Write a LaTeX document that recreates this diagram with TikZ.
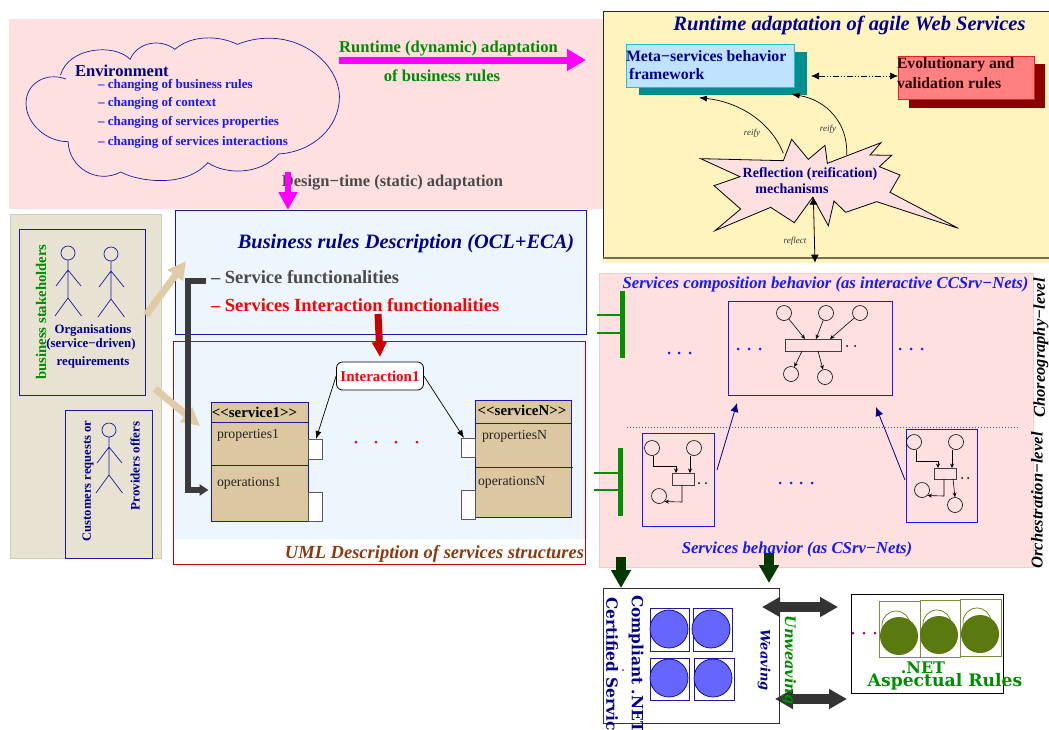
\documentclass[tikz,border=0pt]{standalone}
\usepackage{fontspec}
\setmainfont{Liberation Serif}
\newfontfamily\wideserif{DejaVu Serif}
\usetikzlibrary{arrows.meta,calc}
\definecolor{pinkbg}{HTML}{FFE0E0}
\definecolor{pinkedge}{HTML}{FFC8C8}
\definecolor{bluebg}{HTML}{EDF5FD}
\definecolor{beigebg}{HTML}{E8E2D2}
\definecolor{beigeedge}{HTML}{D4CBB0}
\definecolor{yellowbg}{HTML}{FFF4BD}
\definecolor{navyt}{HTML}{000090}
\definecolor{navyline}{HTML}{1A1AA6}
\definecolor{bluet}{HTML}{1818FF}
\definecolor{greent}{HTML}{008C00}
\definecolor{grayt}{HTML}{4A4A4A}
\definecolor{tan}{HTML}{DCC8A0}
\definecolor{fatbeige}{HTML}{DFCCA6}
\definecolor{dkgreen}{HTML}{003800}
\definecolor{olive}{HTML}{5A7A10}
\definecolor{oliveline}{HTML}{7A9040}
\definecolor{magentaf}{HTML}{FF00FF}
\definecolor{metafill}{HTML}{BFE3FF}
\definecolor{metaedge}{HTML}{20C0D0}
\definecolor{tealshadow}{HTML}{008F8F}
\definecolor{evofill}{HTML}{FF8080}
\definecolor{evoedge}{HTML}{E82020}
\definecolor{evoshadow}{HTML}{8B0000}
\definecolor{umlbrown}{HTML}{8B3A10}
\definecolor{barred}{HTML}{C80000}
\definecolor{bargreen}{HTML}{009000}
\definecolor{dotpurple}{HTML}{A000A0}
\definecolor{discblue}{HTML}{6666FF}
\newcommand{\fs}[1]{\fontsize{#1}{#1}\selectfont}
\newcommand{\bx}[6]{\pgfmathsetmacro\bxcx{(#3+#5)/2}\pgfmathsetmacro\bxcy{(#4+#6)/2}\pgfmathsetmacro\bxw{#5-#3}\pgfmathsetmacro\bxh{#6-#4}\node[rectangle,inner sep=0pt,outer sep=0pt,minimum width=\bxw pt,minimum height=\bxh pt,#2] (#1) at (\bxcx,\bxcy) {};}
\tikzset{
  rtxt/.style={inner sep=0pt,outer sep=0pt,font=\fs{12}\bfseries,align=left},
  txt/.style={rtxt,yshift=-1.5pt},
  lefttxt/.style={txt,anchor=west},
  place/.style={circle,draw=black,line width=.6pt,inner sep=0pt,minimum size=15pt,fill=none},
  trans/.style={draw=black!75,line width=.8pt,fill=none},
  flow/.style={line width=.6pt,-{Stealth[length=4.5pt,width=4pt]}},
  thin arrow/.style={line width=.7pt,-{Latex[length=8pt,width=6pt]}},
  dotb/.style={circle,fill=bluet,inner sep=0pt,minimum size=3pt},
  dotk/.style={circle,fill=black,inner sep=0pt,minimum size=2pt},
  dotr/.style={circle,fill=red,inner sep=0pt,minimum size=3pt},
  dotp/.style={circle,fill=dotpurple,inner sep=0pt,minimum size=3pt},
  bluecircle/.style={circle,draw=navyt,line width=.7pt,fill=discblue,inner sep=0pt,minimum size=38pt},
  squarenavy/.style={draw=navyline,line width=.8pt,fill=white},
  squareolive/.style={draw=oliveline,line width=.9pt,fill=white},
  olivedisc/.style={circle,fill=olive,inner sep=0pt,minimum size=38pt},
  olivering/.style={circle,draw=olive,line width=.7pt,inner sep=0pt,minimum size=28pt},
  stick/.pic={
    \draw[draw=navyline,line width=.7pt] (0,0) circle (7);
    \draw[draw=navyline,line width=.7pt] (0,7) -- (0,45) (-12,33) -- (0,17) -- (13,33) (-13,63) -- (0,45) -- (13.5,63);
  },
}
\begin{document}
\begin{tikzpicture}[x=1pt,y=-1pt]
\useasboundingbox (0,0) rectangle (1049,729);
% ---------- backgrounds
\bx{toppink}{fill=pinkbg}{9}{19}{603}{209}
\bx{bizbg}{fill=bluebg}{175}{210}{588}{539}
\bx{beige}{fill=beigebg,draw=beigeedge}{10}{214}{161}{558}
\bx{yellowpanel}{fill=yellowbg}{603}{11}{1049}{263}
\bx{rightpink}{fill=pinkbg,draw=pinkedge}{599}{273}{1033}{567}
% yellow frame
\coordinate (ytl) at (603,258); \coordinate (ytr) at (603,11); \coordinate (ybr) at (1049,258);
\draw[black!85,line width=.8pt] (ytl) -- (ytr) -- (1049,11);
\draw[black!55!yellowbg,line width=1.3pt] (ytl) -- (ybr);
% ---------- cloud
\begin{scope}[xscale=1/2.613,yscale=1/3]
\draw[navyline,line width=.7pt]
 (172,237) .. controls (120,215) and (68,250) .. (68,310)
 .. controls (68,370) and (120,425) .. (178,425)
 .. controls (180,500) and (250,555) .. (316,516)
 .. controls (350,540) and (480,570) .. (543,488)
 .. controls (590,525) and (680,525) .. (728,462)
 .. controls (820,455) and (887,380) .. (887,290)
 .. controls (885,180) and (760,70) .. (620,133)
 .. controls (570,105) and (500,105) .. (457,148)
 .. controls (420,115) and (360,125) .. (340,178)
 .. controls (300,130) and (180,140) .. (158,225);
\end{scope}
\node[lefttxt,text=navyt,font=\fs{16.6}\bfseries] (env) at (75,69) {Environment};
\node[lefttxt,text=bluet,font=\fs{13}\bfseries] (e1) at (98,84) {– changing of business rules};
\node[lefttxt,text=bluet,font=\fs{13}\bfseries] (e2) at (98,102) {–  changing of context};
\node[lefttxt,text=bluet,font=\fs{13}\bfseries] (e3) at (98,121) {–  changing of services properties};
\node[lefttxt,text=bluet,font=\fs{13}\bfseries] (e4) at (98,141) {–  changing of services interactions};
% runtime arrow
\node[txt,text=greent,font=\fs{16.6}\bfseries] (rt1) at (448.5,47) {Runtime (dynamic) adaptation};
\node[txt,text=greent,font=\fs{16.6}\bfseries] (rt2) at (442,74) {of business rules};
\coordinate (ra) at (339,60); \coordinate (rb) at (586,60);
\draw[magentaf,line width=7pt,-{Triangle[length=19pt,width=21pt]}] (ra) -- (rb);
\node[txt,text=grayt,font=\fs{16.5}\bfseries] (dt) at (392.5,181) {Design−time (static) adaptation};
% ---------- yellow panel
\node[txt,text=navyt,font=\fs{20.5}\bfseries\itshape] (rtitle) at (849.5,23.5) {Runtime adaptation of agile Web Services};
\bx{metashadow}{fill=tealshadow}{639}{52}{807}{95}
\bx{meta}{fill=metafill,draw=metaedge,line width=.8pt}{626}{44}{794}{87}
\node[lefttxt,text=navyt,font=\fs{15.8}\bfseries] (meta1) at (626,55) {Meta−services behavior};
\node[lefttxt,text=navyt,font=\fs{15.8}\bfseries] (meta2) at (629,73) {framework};
\bx{evoshade}{fill=evoshadow}{909}{64}{1045}{108}
\bx{evo}{fill=evofill,draw=evoedge,line width=.8pt}{898}{56}{1034}{99}
\node[lefttxt,text=red!15!black,font=\fs{15.7}\bfseries] (evo1) at (897,63) {Evolutionary and};
\node[lefttxt,text=red!15!black,font=\fs{15.7}\bfseries] (evo2) at (897,82) {validation rules};
\draw[black,line width=.6pt,dash pattern=on 6pt off 2pt on 1pt off 2pt on 1pt off 2pt,{Latex[length=8pt,width=7pt]}-{Latex[length=8pt,width=7pt]}] (meta.east |- 811,76) ++(17,0) coordinate (da) -- (evo.west |- 892,76) coordinate (db);
% star
\begin{scope}[shift={(600,0)},scale=1/3]
\draw[black,line width=.8pt,fill=pinkbg] (302,476) -- (550,482) -- (575,418) -- (625,478) -- (675,436) -- (682,490) -- (843,428) -- (810,465) -- (875,466) -- (838,500) -- (900,525) -- (870,577) -- (1075,685) -- (830,605) -- (737,637) -- (702,603) -- (685,677) -- (638,592) -- (583,668) -- (512,622) -- (345,692) -- (422,627) -- (342,557) -- (420,530) -- cycle;
\coordinate (s1) at (550,460); \coordinate (m1) at (297,293);
\coordinate (s2) at (740,465); \coordinate (m2) at (575,283);
\coordinate (s3) at (640,590); \coordinate (s4) at (645,788);
\draw[thin arrow] (s1) .. controls (510,360) and (410,305) .. (m1);
\draw[thin arrow] (s2) .. controls (745,370) and (680,300) .. (m2);
\draw[line width=.8pt,{Latex[length=8pt,width=8pt]}-{Latex[length=8pt,width=8pt]}] (s3) -- (s4);
\end{scope}
\node[txt,text=navyt,font=\fs{14}\bfseries] (refl) at (810,172.7) {Reflection (reification)};
\node[txt,text=navyt,font=\fs{14}\bfseries] (refl2) at (792,187) {mechanisms};
\node[txt,text=black!80,font=\fs{9}\itshape] (l1) at (752,132) {reify};
\node[txt,text=black!80,font=\fs{9}\itshape] (l2) at (828,128) {reify};
\node[txt,text=black!80,font=\fs{9}\itshape] (l3) at (795,240) {reflect};
% ---------- beige panel
\bx{stake}{draw=navyline,line width=.8pt}{19.5}{229}{145}{395}
\bx{cust}{draw=navyline,line width=.8pt}{65}{410}{152}{558}
\pic at (68,253) {stick};
\pic at (111,254) {stick};
\pic at (109,430) {stick};
\node[rtxt,text=greent,font=\fs{14.7}\bfseries,rotate=90] (bs) at (41,312) {business stakeholders};
\node[txt,text=navyt,font=\fs{12.8}\bfseries] (o1) at (93,329) {Organisations};
\node[txt,text=navyt,font=\fs{12.8}\bfseries] (o2) at (91,343) {(service−driven)};
\node[txt,text=navyt,font=\fs{12.8}\bfseries] (o3) at (93,361) {requirements};
\node[rtxt,text=navyt,font=\fs{12.6}\bfseries,rotate=90] (c1) at (88,481) {Customers requests or};
\node[rtxt,text=navyt,font=\fs{13}\bfseries,rotate=90] (c2) at (135,466) {Providers offers};
% ---------- business rules box
\bx{biz}{draw=navyline,line width=.8pt}{175}{210}{586}{334}
\bx{uml}{draw=barred,line width=.8pt}{173}{341}{585}{564}
\node[txt,text=navyt,font=\fs{20.4}\bfseries\itshape] (bt) at (406,242) {Business rules Description (OCL+ECA)};
\node[lefttxt,text=grayt,font=\fs{18.5}\bfseries] (sf) at (211,276) {– Service functionalities};
\node[lefttxt,text=red,font=\fs{18.5}\bfseries] (si) at (211,304) {– Services Interaction functionalities};
\node[txt,text=umlbrown,font=\fs{18.5}\bfseries\itshape] (umlt) at (434.5,552) {UML Description of services structures};
% services
\bx{s1box}{fill=tan,draw=navyline,line width=.8pt}{211}{402}{308}{521}
\draw[navyline,line width=.7pt] (s1box.west |- 211,422) -- (s1box.east |- 308,422) (s1box.west |- 211,465) -- (s1box.east |- 308,465);
\node[txt,text=black,font=\fs{14.9}\bfseries] (s1t) at (254.5,411) {\textless{}\textless{}service1\textgreater{}\textgreater{}};
\node[lefttxt,text=black!85,font=\fs{13.8}\mdseries] (s1p) at (217,434) {properties1};
\node[lefttxt,text=black!85,font=\fs{13.8}\mdseries] (s1o) at (217,482) {operations1};
\bx{p1a}{fill=white,draw=black!65,line width=.8pt}{308}{439}{322}{459}
\bx{p1b}{fill=white,draw=black!65,line width=.8pt}{308}{492}{322}{521}
\bx{snbox}{fill=tan,draw=navyline,line width=.8pt}{475}{400}{571}{517}
\draw[navyline,line width=.7pt] (snbox.west |- 475,423) -- (snbox.east |- 571,423) (snbox.west |- 475,467) -- (573,467);
\node[txt,text=black,font=\fs{14.9}\bfseries] (snt) at (522,409) {\textless{}\textless{}serviceN\textgreater{}\textgreater{}};
\node[lefttxt,text=black!85,font=\fs{13.8}\mdseries] (snp) at (482,435) {propertiesN};
\node[lefttxt,text=black!85,font=\fs{13.8}\mdseries] (sno) at (478,481) {operationsN};
\bx{pna}{fill=white,draw=black!65,line width=.8pt}{461}{438}{475}{457}
\bx{pnb}{fill=white,draw=black!65,line width=.8pt}{461}{490}{475}{519}
\node[draw=black,line width=.8pt,fill=white,rounded corners=6pt,inner sep=0pt,minimum width=87pt,minimum height=28pt,text=red,font=\fs{15}\bfseries] (inter) at (380,376) {Interaction1};
\draw[thin arrow] (inter.west) -- (p1a.north west -| 316,438);
\draw[thin arrow] (inter.east) -- (pna.north -| 464,436);
\foreach \n/\x in {a/356,b/376,c/396,d/417} \node[dotr] (rd\n) at (\x,442) {};
% fat arrows
\coordinate (be1) at (146,315); \coordinate (be2) at (186,261);
\coordinate (be3) at (155,389); \coordinate (be4) at (200,426);
\draw[fatbeige,line width=7pt,-{Triangle[length=18pt,width=18pt]}] (be1) -- (be2);
\draw[fatbeige,line width=7pt,-{Triangle[length=18pt,width=18pt]}] (be3) -- (be4);
\coordinate (br1) at (206,281); \coordinate (br2) at (208.5,490);
\draw[grayt!80!black,line width=6pt,-{Triangle[length=9pt,width=11pt]}] (br1) -- (187.5,281) -- (187.5,490) -- (br2);
\coordinate (ru1) at (378,314);
\draw[barred,line width=7pt,-{Triangle[length=15pt,width=14pt]}] (ru1) -- (inter.north |- 378,357);
\coordinate (ma1) at (288,172);
\draw[magentaf,line width=6.5pt,-{Triangle[length=18pt,width=18pt]}] (ma1) -- (biz.north -| 288,226);
% ---------- right panel
\node[txt,text=bluet,font=\fs{16.7}\bfseries\itshape] (sc) at (825.5,283) {Services composition behavior (as interactive CCSrv−Nets)};
\node[txt,text=bluet,font=\fs{16.7}\bfseries\itshape] (sb) at (797,548) {Services behavior (as CSrv−Nets)};
\node[rtxt,text=black,font=\fs{16.5}\bfseries\itshape,rotate=90] (chor) at (1041,348) {Choreography−level};
\node[rtxt,text=black,font=\fs{16.6}\bfseries\itshape,rotate=90] (orch) at (1037,500.5) {Orchestration−level};
% green bars
\coordinate (g1a) at (622,291); \coordinate (g1b) at (622,358);
\coordinate (g2a) at (620,448); \coordinate (g2b) at (620,516);
\draw[bargreen,line width=5pt] (g1a) -- (g1b);
\draw[bargreen,line width=5pt] (g2a) -- (g2b);
\draw[bargreen,line width=1.4pt] (597,315) -- (622,315) (597,333) -- (622,333) (594,473) -- (620,473) (594,490) -- (620,490);
\foreach \n/\x in {a/669,b/679,c/690} \node[dotb] (da\n) at (\x,353) {};
\foreach \n/\x in {a/738,b/749,c/760,d/900,e/911,f/922} \node[dotb] (db\n) at (\x,349) {};
\foreach \n/\x in {a/780,b/791,c/801,d/812} \node[dotb] (dc\n) at (\x,483) {};
\coordinate (dl1) at (627,427); \coordinate (dl2) at (1018,427);
\draw[black!65,line width=.8pt,dash pattern=on 1pt off 2pt] (dl1) -- (dl2);
% composition box
\bx{comp}{draw=bluet,line width=.8pt}{728}{301}{892}{395}
\bx{ct}{trans}{785}{339}{841}{351}
\node[place] (ca) at (784,313) {};
\node[place] (cb) at (826,313) {};
\node[place] (cc) at (860,313) {};
\node[place] (cd) at (791,374) {};
\node[place] (ce) at (825,377) {};
\draw[flow] (ca) -- ([xshift=20pt]ct.north west);
\draw[flow] (cb) -- ([xshift=31pt]ct.north west);
\draw[flow] (cc) -- ([xshift=45pt]ct.north west);
\draw[flow] ([xshift=17pt]ct.south west) -- (cd);
\draw[flow] ([xshift=33pt]ct.south west) -- (ce);
\node[dotk] (cx1) at (847,346) {};
\node[dotk] (cx2) at (855,346) {};
% left small net
\bx{lbox}{draw=bluet,line width=.8pt}{642}{433}{714}{526}
\bx{lt}{trans}{672}{473}{694}{485}
\node[place] (la) at (652,448) {};
\node[place] (lb) at (694,448) {};
\node[place] (lc) at (659,496) {};
\draw[flow] (la.south) ++(1,0) |- (676,466) -- (lt.north -| 676,473);
\draw[flow] (lb.south) ++(-4,0) -- (lt.north -| 690,473);
\draw[flow] (lt.south -| 682,485) -- (682,502) -- (lc.south east);
\node[dotk] (lx1) at (699,483) {};
\node[dotk] (lx2) at (706,483) {};
% right small net
\bx{rbox}{draw=bluet,line width=.8pt}{906}{429}{977}{522}
\bx{rt}{trans}{934}{468}{956}{479}
\node[place] (ra1) at (914,442) {};
\node[place] (rb1) at (956,442) {};
\node[place] (rc1) at (922,490) {};
\node[place] (rd1) at (955,505) {};
\draw[flow] (ra1.south) ++(2,0) |- (938,461) -- (rt.north -| 938,468);
\draw[flow] (rb1.south) ++(-4,0) -- (rt.north -| 952,468);
\draw[flow] (rt.south -| 944,479) -- (944,496) -- (rc1.south east);
\draw[flow] (rt.south -| 953,479) -- (rd1.north);
\node[dotk] (rx1) at (962,478) {};
\node[dotk] (rx2) at (968,478) {};
% navy arrows
\coordinate (na1) at (717,470); \coordinate (na2) at (737,403);
\coordinate (nb1) at (905,480); \coordinate (nb2) at (876,407);
\draw[navyt,line width=.8pt,-{Latex[length=9pt,width=8pt]}] (na1) -- (na2);
\draw[navyt,line width=.8pt,-{Latex[length=9pt,width=8pt]}] (nb1) -- (nb2);
% ---------- bottom
\bx{net1}{draw=black!80,line width=.9pt,fill=white}{603}{588}{779}{723}
\bx{net2}{draw=black,line width=.9pt,fill=white}{851}{594}{1003}{693}
\begin{scope}
\clip (0,0) rectangle (1049,729);
\node[rtxt,text=navyt,font=\fs{15.4}\wideserif\bfseries,rotate=-90,anchor=west] (cp) at (636,595) {Compliant .NET};
\node[rtxt,text=navyt,font=\fs{15.4}\wideserif\bfseries,rotate=-90,anchor=west] (cf) at (612,597) {Certified Services};
\end{scope}
\node[circle,fill=dotpurple,inner sep=0pt,minimum size=2pt] (pd) at (623,670) {};
\bx{sq1}{squarenavy}{650}{608}{689}{651}
\bx{sq2}{squarenavy}{693}{608}{732}{651}
\bx{sq3}{squarenavy}{650}{658}{689}{700}
\bx{sq4}{squarenavy}{694}{658}{734}{700}
\node[bluecircle] (b1) at (669,629) {};
\node[bluecircle] (b2) at (711,629) {};
\node[bluecircle] (b3) at (669,678) {};
\node[bluecircle] (b4) at (713,678) {};
\bx{oq1}{squareolive}{879}{601}{920}{657}
\bx{oq2}{squareolive}{920}{600}{960}{657}
\bx{oq3}{squareolive}{960}{599}{1001}{656}
\node[olivering] (or1) at (896,625) {};
\node[olivering] (or2) at (937,624) {};
\node[olivering] (or3) at (977,622) {};
\node[olivedisc] (od1) at (899,636) {};
\node[olivedisc] (od2) at (939,635) {};
\node[olivedisc] (od3) at (980,634) {};
\foreach \n/\x in {a/853,b/864,c/875} \node[dotp] (dp\n) at (\x,633) {};
\node[txt,text=greent,font=\fs{16}\wideserif\bfseries] (n1) at (923,666) {.NET};
\node[txt,text=greent,font=\fs{17.2}\wideserif\bfseries] (n2) at (945,680) {Aspectual Rules};
% dark arrows
\coordinate (dg1) at (621,557); \coordinate (dg2) at (621,588);
\coordinate (dg3) at (769,553); \coordinate (dg4) at (769,583);
\draw[dkgreen,line width=9.5pt,-{Triangle[length=18pt,width=19pt]}] (dg1) -- (dg2);
\draw[dkgreen,line width=9.5pt,-{Triangle[length=18pt,width=19pt]}] (dg3) -- (dg4);
\coordinate (w1) at (762,607); \coordinate (w2) at (838,607);
\coordinate (w3) at (775,699); \coordinate (w4) at (847,699);
\draw[black!80,line width=9.5pt,{Triangle[length=18pt,width=19pt]}-{Triangle[length=18pt,width=19pt]}] (w1) -- (w2);
\draw[black!80,line width=9.5pt,{Triangle[length=18pt,width=19pt]}-{Triangle[length=18pt,width=19pt]}] (w3) -- (w4);
\node[rtxt,text=navyt,font=\fs{13}\wideserif\bfseries\itshape,rotate=-90] (wv) at (764,660) {Weaving};
\node[rtxt,text=greent,font=\fs{14.5}\wideserif\bfseries\itshape,rotate=-90] (uw) at (789,660) {Unweaving};
\end{tikzpicture}
\end{document}
